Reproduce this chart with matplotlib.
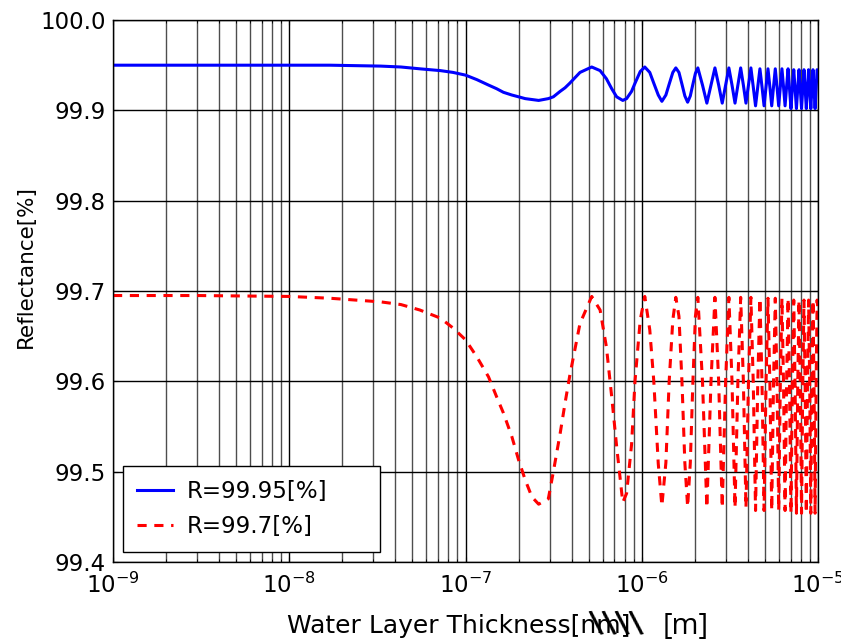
import matplotlib
matplotlib.use("Agg")
import matplotlib.pyplot as plt

# water layer thickness [m]
thickness = [
    1e-9, 3e-9, 1e-8, 1.7e-8, 3.3e-8, 4.3e-8, 5.5e-8, 7.2e-8, 8.5e-8, 1e-7,
    1.16e-7, 1.35e-7, 1.5e-7, 1.64e-7, 1.83e-7, 2e-7, 2.18e-7, 2.38e-7, 2.6e-7, 2.95e-7,
    3.15e-7, 3.44e-7, 3.67e-7, 3.9e-7, 4.46e-7, 5.2e-7,
    5.8e-7, 6.3e-7, 6.75e-7, 7.2e-7, 7.8e-7, 8.2e-7, 8.75e-7, 9.15e-7, 9.8e-7, 1.04e-6,
    1.11e-6, 1.17e-6, 1.24e-6, 1.3e-6, 1.37e-6, 1.43e-6, 1.5e-6, 1.56e-6,
    1.625e-6, 1.69e-6, 1.755e-6, 1.82e-6, 1.885e-6, 1.95e-6, 2.015e-6, 2.08e-6,
    2.21e-6, 2.34e-6, 2.47e-6, 2.60e-6, 2.73e-6, 2.86e-6, 2.99e-6, 3.12e-6,
    3.25e-6, 3.38e-6, 3.51e-6, 3.64e-6, 3.77e-6, 3.90e-6, 4.03e-6, 4.16e-6,
    4.29e-6, 4.42e-6, 4.55e-6, 4.68e-6, 4.81e-6, 4.94e-6, 5.07e-6, 5.20e-6,
    5.33e-6, 5.46e-6, 5.59e-6, 5.72e-6, 5.85e-6, 5.98e-6, 6.11e-6, 6.24e-6,
    6.37e-6, 6.50e-6, 6.63e-6, 6.76e-6, 6.89e-6, 7.02e-6, 7.15e-6, 7.28e-6,
    7.41e-6, 7.54e-6, 7.67e-6, 7.80e-6, 7.93e-6, 8.06e-6, 8.19e-6, 8.32e-6,
    8.45e-6, 8.58e-6, 8.71e-6, 8.84e-6, 8.97e-6, 9.10e-6, 9.23e-6, 9.36e-6,
    9.49e-6, 9.62e-6, 9.75e-6, 9.88e-6, 1.0e-5,
]

# reflectance [%] for mirror R = 99.95 %
refl_9995 = [
    99.950, 99.950, 99.950, 99.950, 99.949, 99.948, 99.946, 99.944, 99.942, 99.939,
    99.934, 99.928, 99.924, 99.920, 99.917, 99.915, 99.913, 99.912, 99.911, 99.913,
    99.915, 99.921, 99.925, 99.930, 99.942, 99.948,
    99.944, 99.935, 99.924, 99.915, 99.911, 99.913, 99.921, 99.930, 99.943, 99.948,
    99.942, 99.930, 99.917, 99.910, 99.917, 99.929, 99.942, 99.947,
    99.942, 99.929, 99.916, 99.909, 99.916, 99.929, 99.941, 99.947,
    99.928, 99.908, 99.928, 99.947, 99.928, 99.908, 99.928, 99.947,
    99.928, 99.908, 99.928, 99.947, 99.928, 99.908, 99.928, 99.947,
    99.926, 99.905, 99.926, 99.946, 99.926, 99.905, 99.926, 99.946,
    99.926, 99.905, 99.926, 99.946, 99.926, 99.905, 99.926, 99.946,
    99.926, 99.905, 99.926, 99.946, 99.924, 99.902, 99.924, 99.945,
    99.924, 99.902, 99.924, 99.945, 99.924, 99.902, 99.924, 99.945,
    99.924, 99.902, 99.924, 99.945, 99.924, 99.902, 99.924, 99.945,
    99.924, 99.902, 99.924, 99.945, 99.943,
]

# reflectance [%] for mirror R = 99.7 %
refl_997 = [
    99.695, 99.695, 99.694, 99.692, 99.688, 99.685, 99.679, 99.670, 99.659, 99.646,
    99.627, 99.605, 99.583, 99.565, 99.539, 99.513, 99.491, 99.472, 99.464, 99.470,
    99.500, 99.542, 99.576, 99.606, 99.664, 99.694,
    99.679, 99.638, 99.583, 99.528, 99.466, 99.476, 99.530, 99.600, 99.668, 99.694,
    99.657, 99.600, 99.509, 99.462, 99.510, 99.600, 99.668, 99.693,
    99.672, 99.600, 99.510, 99.461, 99.510, 99.600, 99.672, 99.693,
    99.600, 99.460, 99.600, 99.693, 99.600, 99.460, 99.600, 99.693,
    99.600, 99.460, 99.600, 99.693, 99.600, 99.460, 99.600, 99.693,
    99.598, 99.457, 99.598, 99.692, 99.598, 99.457, 99.598, 99.692,
    99.598, 99.457, 99.598, 99.692, 99.598, 99.457, 99.598, 99.692,
    99.598, 99.457, 99.598, 99.692, 99.595, 99.454, 99.595, 99.690,
    99.595, 99.454, 99.595, 99.690, 99.595, 99.454, 99.595, 99.690,
    99.595, 99.454, 99.595, 99.690, 99.595, 99.454, 99.595, 99.690,
    99.595, 99.454, 99.595, 99.690, 99.678,
]

labels = ["R=99.95[%]", "R=99.7[%]"]
y_ticks = [99.4, 99.5, 99.6, 99.7, 99.8, 99.9, 100.0]

plt.rcParams["font.family"] = "DejaVu Sans"

fig = plt.figure(figsize=(8.41, 6.42), dpi=100)
ax = fig.add_axes([0.1344, 0.1246, 0.8383, 0.8442])

ax.plot(thickness, refl_9995, color="#0000ff", lw=2.2, label=labels[0])
ax.plot(thickness, refl_997, color="#ff0000", lw=2.2, dashes=(3, 2.5), label=labels[1])

ax.set_xscale("log")
ax.set_xlim(1e-9, 1e-5)
ax.set_ylim(99.4, 100.0)
ax.set_yticks(y_ticks)
ax.set_yticklabels(["%.1f" % v for v in y_ticks])

ax.grid(True, which="major", axis="both", color="black", lw=1.0)
ax.grid(True, which="minor", axis="x", color="0.3", lw=1.0)
ax.set_axisbelow(True)

ax.tick_params(which="both", direction="in", top=True, right=True, labelsize=16.5)
ax.tick_params(axis="x", which="major", pad=8)
ax.tick_params(axis="y", which="major", pad=5)
for s in ax.spines.values():
    s.set_color("black")
    s.set_linewidth(1.0)

ax.set_ylabel("Reflectance[%]", fontsize=15.5)
ax.yaxis.set_label_coords(-0.109, 0.546)

leg = ax.legend(loc="lower left", bbox_to_anchor=(0.0142, 0.0185, 0.3645, 0.155),
                mode="expand", borderaxespad=0, fontsize=16.5, fancybox=False,
                edgecolor="black", framealpha=1, handlelength=1.6,
                handletextpad=0.6, labelspacing=0.55, borderpad=0.6)
leg.get_frame().set_linewidth(1.0)

# x-axis label as it appears (struck-out unit plus the corrected one)
fig.text(287 / 841, 1 - 633 / 642, "Water Layer Thickness[nm]", fontsize=18,
         ha="left", va="baseline")
for x_px in (588, 601, 614, 628):
    fig.text(x_px / 841, 1 - 624 / 642, "\\", fontsize=22, fontweight="bold",
             rotation=10, ha="left", va="center")
fig.text(663 / 841, 1 - 634 / 642, "[m]", fontsize=21, family="Open Sans",
         ha="left", va="baseline")

fig.savefig("out.png", dpi=100)
